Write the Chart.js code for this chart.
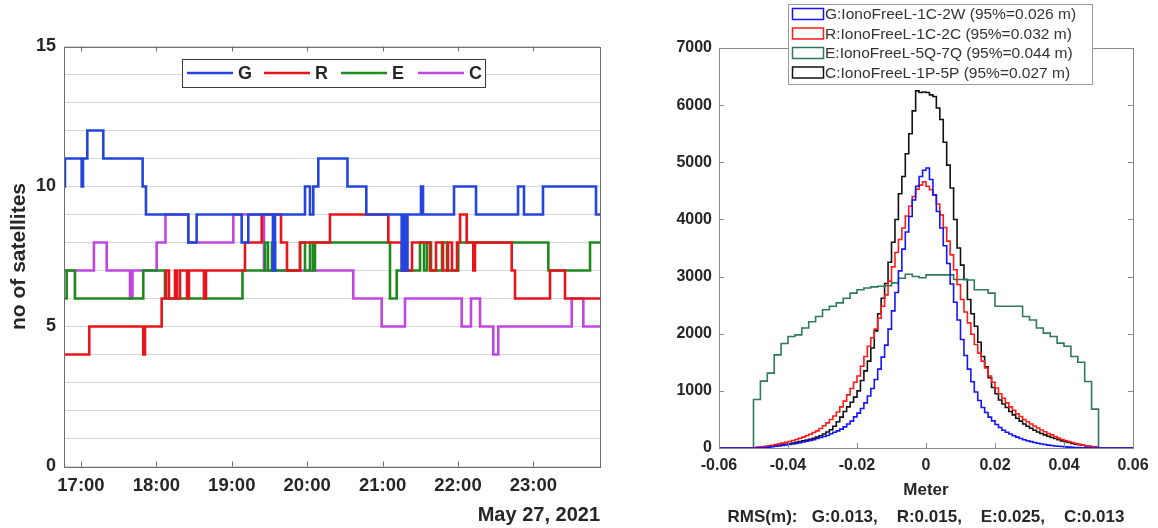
<!DOCTYPE html>
<html lang="en">
<head>
<meta charset="UTF-8">
<title>Satellites and IonoFree residuals</title>
<script src="https://cdn.jsdelivr.net/npm/chart.js"></script>
<style>
  body { margin: 0; background: #fff; }
  #sat_box { position: absolute; left: 0; top: 0; }
  #hist_box { position: absolute; left: 630px; top: 0; }
</style>
</head>
<body>
<div id="sat_box"><canvas id="sat_chart" width="620" height="528"></canvas></div>
<div id="hist_box"><canvas id="hist_chart" width="528" height="528"></canvas></div>

<script>
  // ---- left chart: number of satellites per system (time in decimal hours)
  const hourTicks = [17, 18, 19, 20, 21, 22, 23];
  const hourLabels = ['17:00', '18:00', '19:00', '20:00', '21:00', '22:00', '23:00'];
  const satNames = ['G', 'R', 'E', 'C'];
  const satColors = ['#2445dc', '#e8141c', '#1e8a1e', '#c046e0'];

  const gTimes = [16.775, 16.788, 17.009, 17.027, 17.084, 17.296, 17.818, 17.862, 18.423, 18.534, 19.131, 19.219, 19.546, 19.573, 19.971, 20.037, 20.081, 20.147, 20.534, 20.784, 21.253, 21.277, 21.304, 21.330, 21.509, 21.536, 21.947, 22.239, 22.796, 22.875, 23.127, 23.830, 23.883];
  const gCount = [10, 11, 10, 11, 12, 11, 10, 9, 8, 9, 8, 9, 7, 9, 10, 9, 10, 11, 10, 9, 7, 9, 7, 9, 10, 9, 10, 9, 10, 9, 10, 9, 9];

  const rTimes = [16.775, 17.110, 17.826, 17.849, 18.070, 18.127, 18.167, 18.247, 18.273, 18.313, 18.406, 18.432, 18.631, 18.658, 19.175, 19.397, 19.653, 19.732, 19.905, 20.302, 21.076, 21.257, 21.390, 21.629, 21.708, 21.801, 21.867, 21.920, 21.987, 22.027, 22.115, 22.203, 22.225, 22.712, 22.756, 23.220, 23.419, 23.883];
  const rCount = [4, 5, 4, 5, 6, 7, 6, 7, 6, 7, 6, 7, 6, 7, 8, 9, 8, 7, 8, 9, 8, 7, 8, 7, 8, 7, 8, 7, 8, 9, 8, 7, 8, 7, 6, 7, 6, 6];

  const eTimes = [16.775, 16.810, 16.920, 17.826, 18.114, 19.142, 19.440, 19.480, 19.533, 19.573, 19.905, 19.971, 20.037, 20.077, 20.103, 21.098, 21.187, 21.496, 21.549, 21.589, 21.642, 21.788, 21.854, 22.004, 23.198, 23.751, 23.883];
  const eCount = [6, 7, 6, 7, 6, 7, 8, 7, 8, 7, 8, 7, 8, 7, 8, 6, 7, 8, 7, 8, 7, 8, 7, 8, 7, 8, 8];

  const cTimes = [16.775, 17.172, 17.341, 17.650, 17.683, 18.004, 18.121, 18.423, 19.020, 19.427, 20.611, 20.988, 21.297, 22.049, 22.172, 22.292, 22.468, 22.534, 23.508, 23.662, 23.883];
  const cCount = [7, 8, 7, 6, 7, 8, 9, 8, 9, 7, 6, 5, 6, 5, 6, 5, 4, 5, 6, 5, 5];

  // ---- right chart: residual histograms (counts per bin)
  const meterTicks = [-0.06, -0.04, -0.02, 0, 0.02, 0.04, 0.06];
  const meterLabels = ['-0.06', '-0.04', '-0.02', '0', '0.02', '0.04', '0.06'];
  const histNames = ['G:IonoFreeL-1C-2W (95%=0.026 m)', 'R:IonoFreeL-1C-2C (95%=0.032 m)', 'E:IonoFreeL-5Q-7Q (95%=0.044 m)', 'C:IonoFreeL-1P-5P (95%=0.027 m)'];
  const histColors = ['#1414ff', '#ff1a1a', '#2f7a58', '#111111'];
  const rmsText = 'RMS(m):   G:0.013,    R:0.015,    E:0.025,    C:0.013';
  const binStart = -0.05;
  const fineBin = 0.001;   // G, R, C
  const coarseBin = 0.002; // E

  const gHist = [0, 2, 5, 10, 15, 22, 30, 38, 45, 55,
    62, 70, 80, 92, 105, 118, 130, 145, 165, 185,
    200, 220, 250, 275, 300, 330, 370, 420, 470, 545,
    610, 690, 790, 910, 1040, 1200, 1380, 1590, 1800, 2080,
    2400, 2720, 3100, 3480, 3780, 4050, 4340, 4580, 4750, 4860,
    4900, 4700, 4430, 4140, 3850, 3540, 3230, 2870, 2550, 2240,
    1900, 1620, 1380, 1160, 980, 830, 710, 620, 540, 475,
    410, 360, 310, 275, 245, 215, 190, 165, 145, 128,
    112, 95, 82, 70, 60, 50, 43, 36, 30, 25,
    20, 16, 12, 9, 6, 4, 3, 2, 1, 0];

  const rHist = [10, 15, 20, 28, 38, 48, 60, 72, 85, 100,
    115, 130, 150, 170, 190, 215, 240, 270, 300, 340,
    390, 440, 500, 560, 630, 720, 820, 930, 1040, 1150,
    1260, 1430, 1600, 1780, 1930, 2080, 2270, 2480, 2680, 2920,
    3170, 3420, 3650, 3850, 4060, 4230, 4400, 4530, 4600, 4660,
    4580, 4520, 4430, 4270, 4080, 3860, 3620, 3380, 3120, 2860,
    2600, 2380, 2190, 1990, 1810, 1660, 1520, 1400, 1260, 1150,
    1050, 950, 870, 790, 720, 660, 600, 550, 500, 460,
    420, 385, 350, 315, 285, 255, 230, 200, 175, 150,
    130, 115, 95, 80, 65, 50, 40, 30, 20, 12];

  const eHist = [850, 1170, 1310, 1630, 1830, 1950, 1980, 2100, 2210, 2300,
    2420, 2480, 2540, 2620, 2710, 2770, 2800, 2820, 2830, 2840,
    2890, 2970, 3040, 3000, 2980, 3030, 3030, 3030, 3030, 2950,
    2950, 2940, 2770, 2770, 2710, 2480, 2480, 2480, 2480, 2300,
    2240, 2100, 2010, 1950, 1835, 1780, 1600, 1500, 1165, 680];

  const cHist = [3, 6, 10, 15, 25, 32, 40, 48, 56, 65,
    75, 88, 100, 112, 125, 138, 152, 170, 190, 215,
    245, 280, 320, 380, 460, 540, 640, 720, 800, 890,
    1000, 1180, 1350, 1520, 1750, 2050, 2350, 2620, 2880, 3250,
    3600, 4000, 4450, 4750, 5150, 5500, 5900, 6250, 6220, 6230,
    6220, 6180, 6150, 5950, 5750, 5350, 4950, 4550, 4000, 3500,
    3200, 2950, 2600, 2350, 2130, 1850, 1600, 1420, 1230, 1060,
    950, 840, 770, 710, 640, 580, 520, 470, 420, 380,
    345, 310, 280, 255, 230, 205, 185, 165, 145, 125,
    110, 95, 80, 68, 57, 47, 38, 30, 22, 15];

  function stepPoints(times, counts) {
    return times.map(function(t, i) { return {x: t, y: counts[i]}; });
  }

  // histogram outline: zero before the first edge, one point per bin edge, zero after
  function histPoints(counts, width) {
    var pts = [{x: -0.06, y: 0}];
    counts.forEach(function(c, i) { pts.push({x: binStart + i * width, y: c}); });
    pts.push({x: binStart + counts.length * width, y: 0});
    pts.push({x: 0.06, y: 0});
    return pts;
  }

  const textColor = '#262626';
  const fontFamily = 'Arial, "Liberation Sans"';

  // box round the plot area and small inward tick marks
  const framePlugin = {
    id: 'frame',
    afterDatasetsDraw(chart, args, opts) {
      const ctx = chart.ctx;
      const a = chart.chartArea;
      const sx = chart.scales.x, sy = chart.scales.y;
      ctx.save();
      ctx.strokeStyle = opts.color;
      ctx.lineWidth = 1;
      ctx.beginPath();
      sx.ticks.forEach(function(t) {
        const px = Math.round(sx.getPixelForValue(t.value)) + 0.5;
        ctx.moveTo(px, a.bottom); ctx.lineTo(px, a.bottom - opts.len);
        ctx.moveTo(px, a.top); ctx.lineTo(px, a.top + opts.len);
      });
      if (opts.yTicks) {
        sy.ticks.forEach(function(t) {
          const py = Math.round(sy.getPixelForValue(t.value)) + 0.5;
          ctx.moveTo(a.left, py); ctx.lineTo(a.left + opts.len, py);
          ctx.moveTo(a.right, py); ctx.lineTo(a.right - opts.len, py);
        });
      }
      ctx.stroke();
      ctx.strokeRect(Math.round(a.left) + 0.5, Math.round(a.top) + 0.5, Math.round(a.width), Math.round(a.height));
      ctx.restore();
    }
  };

  // legend of the left chart: one row, line sample + bold letter
  const satLegend = {
    id: 'satLegend',
    afterDraw(chart) {
      const ctx = chart.ctx;
      const x0 = 182, y0 = 59, w = 303, h = 28;
      ctx.save();
      ctx.fillStyle = '#fff';
      ctx.fillRect(x0, y0, w, h);
      ctx.strokeStyle = '#3a3a3a';
      ctx.lineWidth = 1;
      ctx.strokeRect(x0 + 0.5, y0 + 0.5, w, h);
      ctx.font = 'bold 18px ' + fontFamily;
      ctx.textBaseline = 'middle';
      chart.data.datasets.forEach(function(ds, i) {
        const lx = x0 + 5 + i * 77;
        const ly = y0 + h / 2;
        ctx.strokeStyle = ds.borderColor;
        ctx.lineWidth = 2.5;
        ctx.beginPath(); ctx.moveTo(lx, ly); ctx.lineTo(lx + 46, ly); ctx.stroke();
        ctx.fillStyle = textColor;
        ctx.fillText(ds.label, lx + 51, ly + 1);
      });
      ctx.restore();
    }
  };

  // legend of the right chart: outlined swatches, four rows
  const histLegend = {
    id: 'histLegend',
    afterDraw(chart) {
      const ctx = chart.ctx;
      const x0 = 158, y0 = 4, w = 304, h = 80;
      ctx.save();
      ctx.fillStyle = '#fff';
      ctx.fillRect(x0, y0, w, h);
      ctx.strokeStyle = '#9a9a9a';
      ctx.lineWidth = 1;
      ctx.strokeRect(x0 + 0.5, y0 + 0.5, w, h);
      ctx.font = '15.5px ' + fontFamily;
      ctx.textBaseline = 'middle';
      chart.data.datasets.forEach(function(ds, i) {
        const cy = y0 + 10 + i * 19.5;
        ctx.strokeStyle = ds.borderColor;
        ctx.lineWidth = 1.5;
        ctx.strokeRect(x0 + 4.5, cy - 5.5, 31, 11);
        ctx.fillStyle = '#333';
        ctx.fillText(ds.label, x0 + 37, cy + 1);
      });
      ctx.restore();
    }
  };

  const satSeries = [[gTimes, gCount], [rTimes, rCount], [eTimes, eCount], [cTimes, cCount]];

  new Chart(document.getElementById('sat_chart'), {
    type: 'line',
    data: {
      datasets: satSeries.map(function(s, i) {
        return {
          label: satNames[i],
          data: stepPoints(s[0], s[1]),
          borderColor: satColors[i],
          backgroundColor: satColors[i],
          borderWidth: 2.6,
          stepped: true,
          pointRadius: 0,
          fill: false
        };
      })
    },
    options: {
      responsive: false,
      animation: false,
      devicePixelRatio: 1,
      layout: { padding: { left: 4, right: 20, top: 46.5, bottom: 0 } },
      plugins: {
        legend: { display: false },
        tooltip: { enabled: false },
        frame: { color: '#6e6e6e', len: 5, yTicks: false }
      },
      scales: {
        x: {
          type: 'linear',
          min: 16.775,
          max: 23.883,
          afterBuildTicks: function(s) { s.ticks = hourTicks.map(function(v) { return {value: v}; }); },
          afterFit: function(s) { s.height = 61.5; },
          grid: { display: false, drawTicks: false },
          border: { display: false },
          ticks: {
            color: textColor,
            padding: 8,
            maxRotation: 0,
            font: { family: fontFamily, size: 18.5, weight: 'bold' },
            callback: function(v, i) { return hourLabels[i]; }
          },
          title: {
            display: true,
            text: 'May 27, 2021',
            align: 'end',
            color: textColor,
            padding: { top: 0, bottom: 1 },
            font: { family: fontFamily, size: 20, weight: 'bold' }
          }
        },
        y: {
          min: 0,
          max: 15,
          afterFit: function(s) { s.width = 60; },
          grid: { color: '#d6d6d6', drawTicks: false },
          border: { display: false },
          ticks: {
            stepSize: 1,
            color: textColor,
            padding: 8,
            font: { family: fontFamily, size: 18, weight: 'bold' },
            callback: function(v) { return v % 5 === 0 ? v : ''; }
          },
          title: {
            display: true,
            text: 'no of satellites',
            color: textColor,
            padding: { top: 3, bottom: 0 },
            font: { family: fontFamily, size: 21, weight: 'bold' }
          }
        }
      }
    },
    plugins: [framePlugin, satLegend]
  });

  const histSeries = [[gHist, fineBin], [rHist, fineBin], [eHist, coarseBin], [cHist, fineBin]];

  new Chart(document.getElementById('hist_chart'), {
    type: 'line',
    data: {
      datasets: histSeries.map(function(s, i) {
        return {
          label: histNames[i],
          data: histPoints(s[0], s[1]),
          borderColor: histColors[i],
          backgroundColor: histColors[i],
          borderWidth: 1.6,
          stepped: true,
          pointRadius: 0,
          fill: false
        };
      })
    },
    options: {
      responsive: false,
      animation: false,
      devicePixelRatio: 1,
      layout: { padding: { left: 0, right: 25, top: 48, bottom: 0 } },
      plugins: {
        legend: { display: false },
        tooltip: { enabled: false },
        frame: { color: '#8a8a8a', len: 5, yTicks: true }
      },
      scales: {
        x: {
          type: 'linear',
          min: -0.06,
          max: 0.06,
          afterBuildTicks: function(s) { s.ticks = meterTicks.map(function(v) { return {value: v}; }); },
          afterFit: function(s) { s.height = 80; },
          grid: { display: false, drawTicks: false },
          border: { display: false },
          ticks: {
            color: textColor,
            padding: 8,
            maxRotation: 0,
            font: { family: fontFamily, size: 16, weight: 'bold' },
            callback: function(v, i) { return meterLabels[i]; }
          },
          title: {
            display: true,
            text: ['Meter', rmsText],
            color: textColor,
            padding: { top: 0, bottom: -2 },
            font: { family: fontFamily, size: 17, weight: 'bold', lineHeight: 1.55 }
          }
        },
        y: {
          min: 0,
          max: 7000,
          afterFit: function(s) { s.width = 89; },
          grid: { display: false, drawTicks: false },
          border: { display: false },
          ticks: {
            stepSize: 1000,
            color: textColor,
            padding: 7,
            font: { family: fontFamily, size: 16, weight: 'bold' },
            callback: function(v) { return String(v); }
          }
        }
      }
    },
    plugins: [framePlugin, histLegend]
  });
</script>
</body>
</html>
